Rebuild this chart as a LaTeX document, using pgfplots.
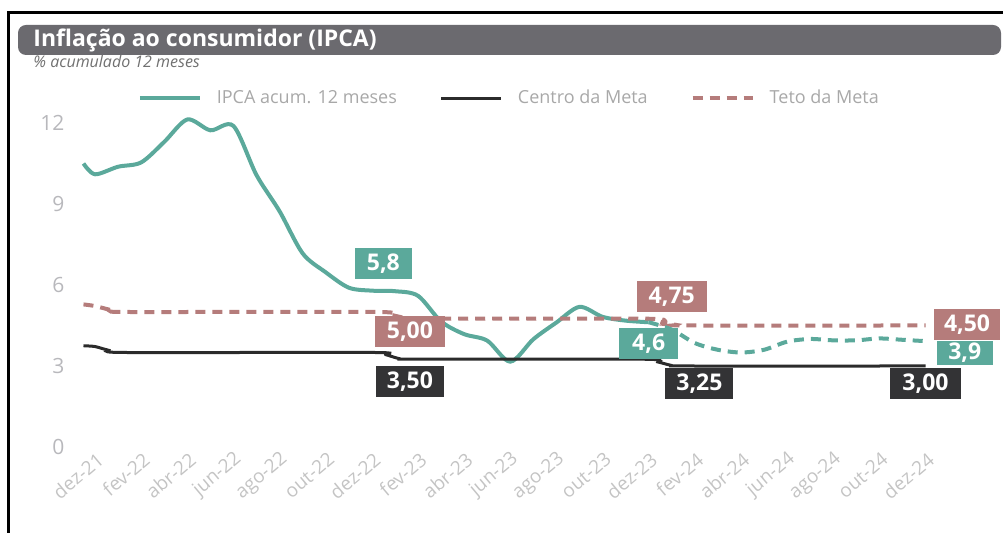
\documentclass[border=0pt]{standalone}
\usepackage{pgfplots}
\pgfplotsset{compat=1.18}
\usepackage{fontspec}
\setmainfont{Open Sans}
\definecolor{teal1}{HTML}{5BA99B}
\definecolor{rose1}{HTML}{B57C7B}
\definecolor{dark1}{HTML}{333335}
\definecolor{line1}{HTML}{2B2B2B}
\definecolor{bar1}{HTML}{6B6A6F}
\definecolor{tickgray}{HTML}{C4C4C4}
\definecolor{ytickgray}{HTML}{B8B8BC}
\definecolor{leggray}{HTML}{A8A8A8}
\definecolor{subgray}{HTML}{707070}
\begin{document}
\begin{tikzpicture}
\useasboundingbox (0,0) rectangle (501.5pt,266.5pt);
% frame
\draw[line width=1.5pt] (4pt,0) -- (4pt,260pt) -- (501.5pt,260pt);
% title bar
\fill[bar1, rounded corners=4pt] (9pt,239pt) rectangle (500.5pt,254pt);
\node[anchor=base west, inner sep=0, text=white, font=\bfseries\fontsize{11.5}{13}\selectfont] at (16.5pt,243pt) {Inflação ao consumidor (IPCA)};
\node[anchor=base west, inner sep=0, text=subgray, font=\itshape\fontsize{8}{9}\selectfont] at (16.5pt,232.5pt) {\% acumulado 12 meses};
\begin{axis}[
  at={(41.75pt,43pt)}, anchor=south west,
  scale only axis, width=421pt, height=162pt,
  xmin=-0.5, xmax=36, ymin=0, ymax=12,
  axis line style={draw=none},
  tick style={draw=none},
  ytick={0,3,6,9,12},
  xtick={0,2,...,36},
  xticklabels={dez-21,fev-22,abr-22,jun-22,ago-22,out-22,dez-22,fev-23,abr-23,jun-23,ago-23,out-23,dez-23,fev-24,abr-24,jun-24,ago-24,out-24,dez-24},
  /pgf/number format/assume math mode=true,
  xticklabel style={font=\fontsize{9.5}{11}\selectfont, text=tickgray, rotate=40, anchor=east, xshift=2.5pt, yshift=-5.5pt},
  yticklabel style={font=\fontsize{10.5}{12}\selectfont, text=ytickgray, xshift=-6pt},
  clip=false,
  legend columns=3,
  legend style={draw=none, fill=none, at={(0.5135,1.077)}, anchor=center,
    font=\fontsize{9}{10}\selectfont, text=leggray,
    /tikz/every even column/.append style={column sep=14pt},
    nodes={inner xsep=7.5pt}},
  legend image code/.code={\draw[#1] (0pt,0pt) -- (30pt,0pt);},
]
\addplot[teal1, line width=2pt, smooth, tension=0.5] coordinates {
(-0.5,10.5) (0,10.1) (1,10.38) (2,10.54) (3,11.30) (4,12.13) (5,11.73) (6,11.89)
(7,10.07) (8,8.73) (9,7.17) (10,6.47) (11,5.90) (12,5.79) (13,5.77) (14,5.60)
(15,4.65) (16,4.18) (17,3.94) (18,3.16) (19,3.99) (20,4.61) (21,5.19) (22,4.82)
(23,4.68) (24,4.62)};
\addlegendentry{IPCA acum. 12 meses}
\addplot[line1, line width=1.5pt, smooth, tension=0.4] coordinates {
(-0.5,3.75) (0,3.72) (0.6,3.58) (1.3,3.5) (12.1,3.5) (12.6,3.42) (13.2,3.27) (13.8,3.25) (23.8,3.25) (24.4,3.15) (25,3.02) (25.6,3.0) (36,3.0)};
\addlegendentry{Centro da Meta}
\addplot[rose1, line width=2pt, dash pattern=on 5pt off 3.5pt, smooth, tension=0.4] coordinates {
(-0.5,5.28) (0,5.22) (0.8,5.05) (1.4,5.0) (12.2,5.0) (12.8,4.9) (13.5,4.77) (14.2,4.75) (24,4.75) (24.6,4.62) (25.2,4.52) (25.8,4.5) (36,4.5)};
\addlegendentry{Teto da Meta}
\addplot[teal1, line width=2pt, dash pattern=on 5pt off 3.5pt, smooth, tension=0.5, forget plot] coordinates {
(24,4.62) (25,4.35) (26,3.85) (27,3.6) (28,3.5) (29,3.6) (30,3.9) (31,4.0) (32,3.95) (33,3.95) (34,4.02) (35,3.97) (36,3.92)};
% value boxes
\tikzset{vbox/.style={text=white, font=\bfseries\fontsize{11.5}{12}\selectfont, minimum height=15.5pt, inner xsep=0pt, inner ysep=0pt}}
\node[vbox, fill=teal1, minimum width=28.5pt] at (axis cs:12.5,6.78) {5,8};
\node[vbox, fill=rose1, minimum width=35pt] at (axis cs:13.65,4.26) {5,00};
\node[vbox, fill=dark1, minimum width=34pt] at (axis cs:13.65,2.41) {3,50};
\node[vbox, fill=rose1, minimum width=35pt] at (axis cs:25.0,5.56) {4,75};
\node[vbox, fill=teal1, minimum width=29.5pt] at (axis cs:24.0,3.83) {4,6};
\node[vbox, fill=dark1, minimum width=34pt] at (axis cs:26.2,2.35) {3,25};
\node[vbox, fill=dark1, minimum width=35.5pt] at (axis cs:36.0,2.35) {3,00};
\node[vbox, fill=rose1, minimum width=33pt] at (axis cs:37.8,4.52) {4,50};
\node[vbox, fill=teal1, minimum width=28pt, minimum height=12pt] at (axis cs:37.7,3.48) {3,9};
\end{axis}
\end{tikzpicture}
\end{document}
